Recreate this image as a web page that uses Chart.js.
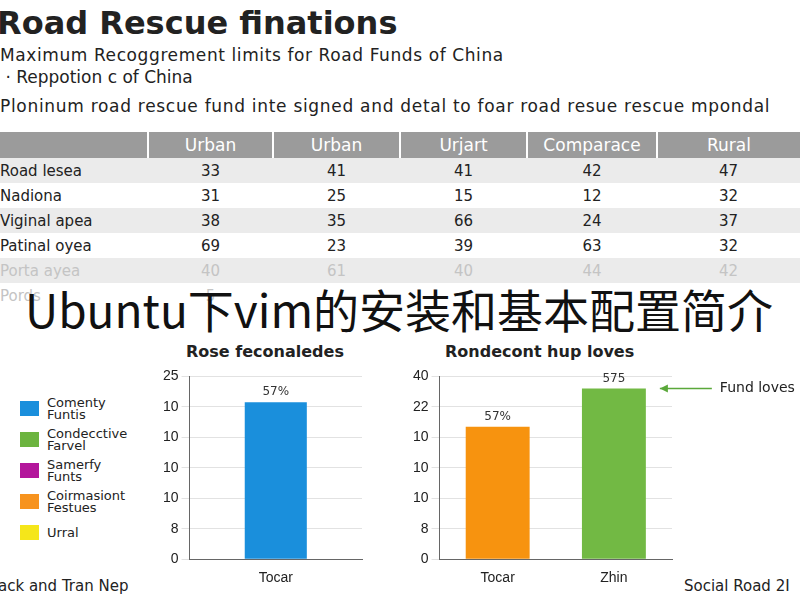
<!DOCTYPE html>
<html>
<head>
<meta charset="utf-8">
<script src="https://cdn.jsdelivr.net/npm/chart.js@4"></script>
<style>
  body { margin: 0; width: 800px; height: 600px; background: #fff; font-family: "DejaVu Sans", sans-serif; color: #222; position: relative; overflow: hidden; }
  .abs { position: absolute; white-space: nowrap; }
  table { border-collapse: collapse; font-size: 15px; table-layout: fixed; }
  td, th { height: 25px; padding: 0; text-align: center; overflow: hidden; }
  th { background: #9b9b9b; color: #fff; font-weight: normal; font-size: 17px; height: 26px; border-left: 2px solid #fff; }
  td:first-child { text-align: left; padding-left: 0; }
  tr.sh td { background: #ebebeb; }
  tr.faint td { color: #c4c4c4; }
  .legend div { display: flex; align-items: center; height: 31px; font-size: 13px; line-height: 12px; }
  .legend span.box { width: 19px; height: 15px; margin-right: 8px; flex: none; }
</style>
</head>
<body>
<div class="abs" style="left:-3px;top:4px;font-size:32px;font-weight:bold;">Road Rescue finations</div>
<div class="abs" style="left:0;top:45px;font-size:17px;letter-spacing:0.6px;">Maximum Recoggrement limits for Road Funds of China</div>
<div class="abs" style="left:0;top:67px;font-size:17px;">&nbsp;· Reppotion c of China</div>
<div class="abs" style="left:0;top:96px;font-size:17px;letter-spacing:0.7px;">Ploninum road rescue fund inte signed and detal to foar road resue rescue mpondal</div>
<table class="abs" id="tbl" style="left:0;top:132px;width:800px;">
  <colgroup><col style="width:148px"><col style="width:125px"><col style="width:127px"><col style="width:127px"><col style="width:130px"><col style="width:143px"></colgroup>
</table>
<div class="abs" style="left:25px;top:275px;font-size:46px;font-family:'Noto Sans CJK SC';color:#111;">Ubuntu下vim的安装和基本配置简介</div>

<div class="abs" style="left:186px;top:342px;font-size:16px;font-weight:bold;">Rose feconaledes</div>
<div class="abs" style="left:445px;top:342px;font-size:16px;font-weight:bold;">Rondecont hup loves</div>
<div class="abs legend" id="legend" style="left:20px;top:393px;"></div>
<div class="abs" style="left:-2px;top:577px;font-size:15px;">ack and Tran Nep</div>
<div class="abs" style="left:684px;top:577px;font-size:15px;">Social Road 2I</div>

<div class="abs" style="left:160px;top:365px;width:220px;height:225px;"><canvas id="c1"></canvas></div>
<div class="abs" style="left:410px;top:365px;width:390px;height:225px;"><canvas id="c2"></canvas></div>

<script>
// table data
const tableCols = ["Urban", "Urban", "Urjart", "Comparace", "Rural"];
const tableRows = ["Road lesea", "Nadiona", "Viginal apea", "Patinal oyea", "Porta ayea", "Pords"];
const tableVals = [
  [33, 41, 41, 42, 47],
  [31, 25, 15, 12, 32],
  [38, 35, 66, 24, 37],
  [69, 23, 39, 63, 32],
  [40, 61, 40, 44, 42],
  [5, "", "", "", ""],
];

// legend
const legendNames = [["Comenty", "Funtis"], ["Condecctive", "Farvel"], ["Samerfy", "Funts"], ["Coirmasiont", "Festues"], ["Urral"]];
const legendColors = ["#1a8fdc", "#6cb43f", "#b3169b", "#f7931e", "#f5e61a"];

// chart 1
const c1Labels = ["Tocar"];
const c1Values = [5.15];
const c1Text = ["57%"];
const c1Ticks = ["0", "8", "10", "10", "10", "10", "25"];

// chart 2
const c2Labels = ["Tocar", "Zhin"];
const c2Values = [4.35, 5.6];
const c2Text = ["57%", "575"];
const c2Colors = ["#f7930f", "#72b944"];
const c2Ticks = ["0", "8", "10", "10", "10", "22", "40"];

// BUILD TABLE
const tbl = document.getElementById("tbl");
let html = '<tr><th style="border-left:none"></th>' + tableCols.map((c) => "<th>" + c + "</th>").join("") + "</tr>";
tableRows.forEach((r, i) => {
  const cls = (i % 2 === 0 ? "sh" : "") + (i >= 4 ? " faint" : "");
  html += '<tr class="' + cls + '"><td>' + r + "</td>" + tableVals[i].map((v) => "<td>" + v + "</td>").join("") + "</tr>";
});
tbl.insertAdjacentHTML("beforeend", html);

// BUILD LEGEND
document.getElementById("legend").innerHTML = legendNames
  .map((n, i) => '<div><span class="box" style="background:' + legendColors[i] + '"></span><span>' + n.join("<br>") + "</span></div>")
  .join("");

// BAR TOP LABELS
const topLabels = {
  id: "topLabels",
  afterDatasetsDraw(chart, args, opts) {
    const ctx = chart.ctx;
    const meta = chart.getDatasetMeta(0);
    ctx.save();
    ctx.font = "12px 'DejaVu Sans'";
    ctx.fillStyle = "#333";
    ctx.textAlign = "center";
    ctx.textBaseline = "bottom";
    meta.data.forEach((bar, i) => ctx.fillText(opts.text[i], bar.x, bar.y - 4));
    if (opts.arrow) {
      const bar = meta.data[opts.arrow.index];
      const y = bar.y;
      const x0 = bar.x + bar.width / 2 + 14;
      ctx.strokeStyle = "#5aa83a";
      ctx.fillStyle = "#5aa83a";
      ctx.lineWidth = 1.5;
      ctx.beginPath();
      ctx.moveTo(x0, y);
      ctx.lineTo(x0 + 52, y);
      ctx.stroke();
      ctx.beginPath();
      ctx.moveTo(x0, y);
      ctx.lineTo(x0 + 8, y - 4);
      ctx.lineTo(x0 + 8, y + 4);
      ctx.fill();
      ctx.fillStyle = "#222";
      ctx.font = "14px 'DejaVu Sans'";
      ctx.textAlign = "left";
      ctx.textBaseline = "middle";
      ctx.fillText(opts.arrow.text, x0 + 60, y);
    }
    ctx.restore();
  },
};

function makeChart(id, labels, values, colors, ticks, text, arrow, right, barPct) {
  return new Chart(document.getElementById(id), {
    type: "bar",
    data: { labels, datasets: [{ data: values, backgroundColor: colors, barPercentage: barPct, categoryPercentage: 1 }] },
    options: {
      responsive: true,
      maintainAspectRatio: false,
      animation: false,
      layout: { padding: { top: 8, right: right, bottom: 0 } },
      plugins: { legend: { display: false }, tooltip: { enabled: false }, topLabels: { text, arrow } },
      scales: {
        x: {
          grid: { display: false },
          border: { color: "#666" },
          ticks: { color: "#222", font: { size: 14 } },
        },
        y: {
          min: 0,
          max: 6,
          border: { color: "#666" },
          grid: { color: "#e2e2e2" },
          ticks: { stepSize: 1, color: "#222", font: { size: 14 }, callback: (v) => ticks[v] },
        },
      },
    },
    plugins: [topLabels],
  });
}

makeChart("c1", c1Labels, c1Values, "#1a8fdc", c1Ticks, c1Text, null, 18, 0.36);
makeChart("c2", c2Labels, c2Values, c2Colors, c2Ticks, c2Text, { index: 1, text: "Fund loves" }, 128, 0.55);
</script>
</body>
</html>
